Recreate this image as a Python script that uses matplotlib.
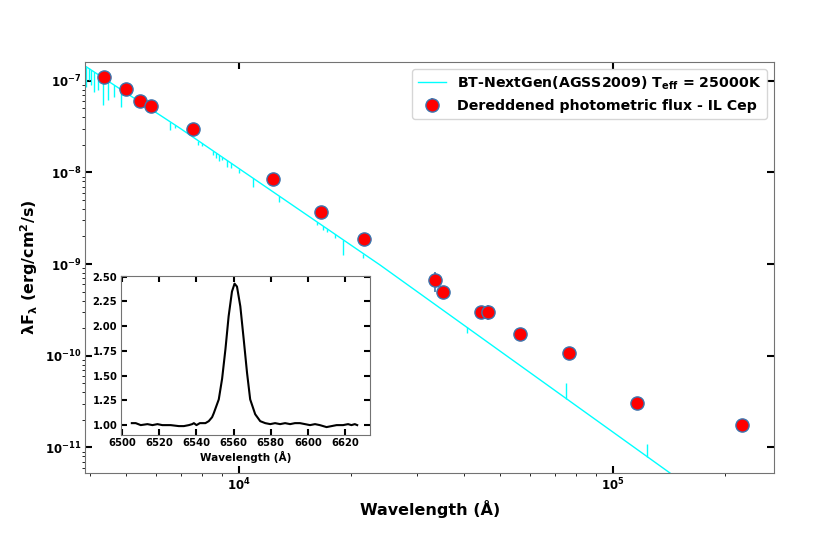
import numpy as np
import matplotlib
matplotlib.use("Agg")
import matplotlib.pyplot as plt
from matplotlib.ticker import NullFormatter

# ------------------------------------------
# Data
# ------------------------------------------

# dereddened photometric points (Angstrom, erg/cm2/s)
phot_wave = [4363, 5005, 5457, 5829, 7569, 12350, 16600, 21630,
             33490, 35180, 44460, 46280, 56510, 76590, 116100, 222200]
phot_flux = [1.10e-7, 8.18e-8, 6.05e-8, 5.30e-8, 2.94e-8, 8.47e-9, 3.70e-9, 1.88e-9,
             6.62e-10, 5.01e-10, 3.00e-10, 3.00e-10, 1.74e-10, 1.06e-10, 3.06e-11, 1.78e-11]
phot_err = [2.0e-9, 1.5e-9, 1.0e-9, 1.0e-9, 5.0e-10, 1.5e-10, 6.0e-11, 3.0e-11,
            1.6e-10, 1.0e-11, 5.0e-12, 5.4e-11, 3.0e-12, 2.0e-12, 6.0e-13, 3.0e-13]

# model continuum (BT-NextGen, Teff = 25000 K)
model_wave = [3882, 6966, 23867, 142300, 300000]
model_flux = [1.446e-7, 3.03e-8, 9.78e-10, 5.27e-12, 5.9e-13]

# model lines: wavelength, flux at continuum, flux at line tip
line_wave = [3906, 3972, 4036, 4103, 4205, 4329, 4472, 4632, 4855, 6564, 6769,
             7798, 7963, 8538, 8697, 8859, 9023, 9288, 9519, 10037, 10940, 12818,
             16196, 16804, 17223, 18093, 19041, 21540, 40700, 75150, 123740]
line_base = [1.42e-7, 1.36e-7, 1.31e-7, 1.25e-7, 1.17e-7, 1.08e-7, 9.92e-8, 9.02e-8,
             7.96e-8, 3.55e-8, 3.26e-8, 2.21e-8, 2.09e-8, 1.72e-8, 1.63e-8, 1.55e-8,
             1.47e-8, 1.36e-8, 1.27e-8, 1.09e-8, 8.60e-9, 5.53e-9, 2.88e-9, 2.60e-9,
             2.43e-9, 2.11e-9, 1.83e-9, 1.30e-9, 2.05e-10, 3.41e-11, 7.94e-12]
line_tip = [8.60e-8, 1.018e-7, 8.98e-8, 7.59e-8, 7.92e-8, 5.43e-8, 6.16e-8, 6.69e-8,
            5.21e-8, 2.90e-8, 3.01e-8, 1.99e-8, 1.94e-8, 1.55e-8, 1.44e-8, 1.33e-8,
            1.37e-8, 1.15e-8, 1.11e-8, 9.78e-9, 6.98e-9, 4.79e-9, 2.67e-9, 2.38e-9,
            2.24e-9, 1.91e-9, 1.26e-9, 1.16e-9, 1.79e-10, 5.05e-11, 1.09e-11]

# H-alpha profile (inset)
ha_wave = [6505.2, 6507.3, 6510.0, 6513.6, 6516.3, 6519.0, 6521.6, 6526.1, 6530.5,
           6533.2, 6535.9, 6537.7, 6538.6, 6540.0, 6541.8, 6544.8, 6546.6, 6548.4,
           6549.3, 6552.0, 6553.8, 6555.6, 6557.3, 6559.1, 6560.5, 6561.8, 6563.6,
           6565.4, 6567.2, 6568.9, 6571.6, 6574.3, 6577.0, 6579.7, 6582.3, 6585.0,
           6587.7, 6590.4, 6593.0, 6595.7, 6598.4, 6601.1, 6603.8, 6606.4, 6610.0,
           6612.7, 6615.4, 6618.9, 6621.6, 6623.4, 6625.2, 6626.5]
ha_flux = [1.02, 1.02, 1.00, 1.01, 1.00, 1.01, 1.00, 1.00, 0.99,
           0.99, 1.00, 1.01, 1.02, 1.00, 1.02, 1.02, 1.04, 1.08,
           1.12, 1.26, 1.47, 1.77, 2.10, 2.35, 2.43, 2.40, 2.20,
           1.87, 1.53, 1.26, 1.11, 1.04, 1.02, 1.01, 1.02, 1.01,
           1.02, 1.01, 1.02, 1.02, 1.01, 1.00, 1.01, 1.00, 0.98,
           0.99, 1.00, 1.00, 1.01, 1.00, 1.01, 1.00]

# ------------------------------------------
# Style
# ------------------------------------------

plt.rcParams["font.family"] = "DejaVu Sans"
plt.rcParams["font.weight"] = "bold"
plt.rcParams["mathtext.default"] = "bf"

SPINE = "0.45"

fig = plt.figure(figsize=(8.3, 5.42), dpi=100)

# ------------------------------------------
# Main SED panel
# ------------------------------------------

ax = fig.add_axes([0.1024, 0.1273, 0.8305, 0.7589])

ax.plot(model_wave, model_flux, color="cyan", lw=1,
        label=r"BT-NextGen(AGSS2009) T$_{eff}$ = 25000K")
ax.vlines(line_wave, line_base, line_tip, color="cyan", lw=1)

ax.errorbar(phot_wave, phot_flux, yerr=phot_err, fmt="o",
            color="#3b75af", ecolor="#3b75af", elinewidth=1.2,
            mfc="red", mec="#3b75af", mew=1, ms=9.5,
            label="Dereddened photometric flux - IL Cep", zorder=3)

ax.set_xscale("log")
ax.set_yscale("log")
ax.set_xlim(3882, 2.705e5)
ax.set_ylim(5.27e-12, 1.61e-7)
ax.xaxis.set_minor_formatter(NullFormatter())
ax.yaxis.set_minor_formatter(NullFormatter())

ax.set_xlabel("Wavelength (Å)", fontsize=11.5, fontweight="bold", labelpad=5)
ax.set_ylabel(r"λF$_λ$ (erg/cm$^2$/s)", fontsize=11.5, fontweight="bold")

ax.tick_params(direction="in", length=5, width=1.5, top=True, right=True,
               labelsize=8.5, pad=2.5)

for s in ax.spines.values():
    s.set_color(SPINE)

ax.legend(loc="upper right", prop={"weight": "bold", "size": 10.2})

# ------------------------------------------
# Inset: H-alpha line
# ------------------------------------------

ins = fig.add_axes([0.1454, 0.1974, 0.3004, 0.2939])

ins.plot(ha_wave, ha_flux, color="black", lw=1.5)

ins.set_xlim(6499.2, 6633.4)
ins.set_ylim(0.90, 2.51)
ins.set_xticks([6500, 6520, 6540, 6560, 6580, 6600, 6620])
ins.set_yticks([1.00, 1.25, 1.50, 1.75, 2.00, 2.25, 2.50])
ins.set_yticklabels(["1.00", "1.25", "1.50", "1.75", "2.00", "2.25", "2.50"])
ins.set_xlabel("Wavelength (Å)", fontsize=7.5, fontweight="bold", labelpad=2)

ins.tick_params(direction="in", length=4, width=1.5, top=True, right=True,
                labelsize=7.2, pad=2.5)

for s in ins.spines.values():
    s.set_color(SPINE)

plt.savefig("out.png", dpi=100)
